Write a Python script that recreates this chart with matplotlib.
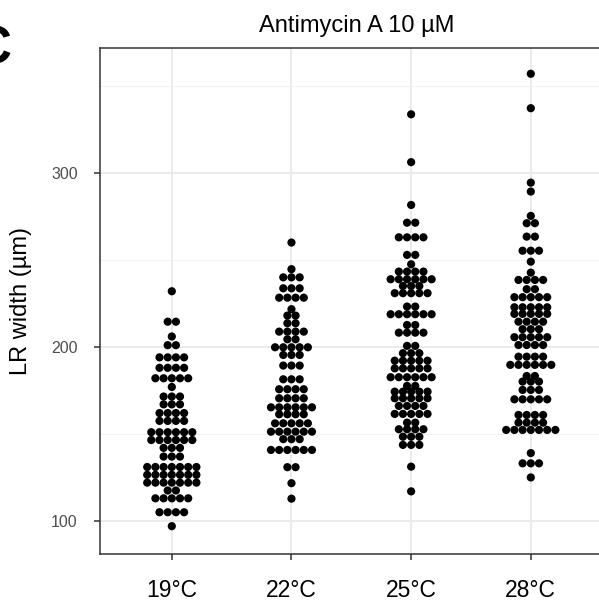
import matplotlib
matplotlib.use("Agg")
import matplotlib.pyplot as plt
import numpy as np

plt.rcParams['font.family'] = ['Liberation Sans', 'DejaVu Sans']

categories = ["19°C", "22°C", "25°C", "28°C"]

# binned values (µm) and number of observations in each bin
bins_19 = [232, 214.5, 206, 201, 194, 188, 182, 177, 171.5, 167, 162, 157.5, 151, 146.5,
           142, 137, 131, 126.5, 122, 117.5, 113, 105, 97]
counts_19 = [1, 2, 1, 2, 4, 4, 5, 1, 3, 3, 4, 4, 6, 6, 3, 3, 7, 7, 7, 2, 5, 4, 1]

bins_22 = [260, 244.7, 240, 233.7, 228.3, 221.7, 218, 213.6, 208.8, 204.4, 199.8, 195.4,
           189.3, 181.4, 175.7, 170.5, 165.3, 161.3, 156.1, 151.3, 147, 140.8, 130.9,
           121.7, 112.8]
counts_22 = [1, 1, 3, 3, 4, 1, 2, 2, 4, 2, 5, 3, 3, 3, 4, 4, 6, 4, 5, 6, 3, 6, 2, 1, 1]

bins_25 = [333.7, 306.2, 281.6, 271.4, 263, 252.9, 247.5, 243.3, 238.9, 235, 230.9, 223.2,
           218.8, 212.6, 208.2, 200.6, 196.4, 192.1, 187.7, 182.6, 177.6, 174.3, 170.5,
           166.1, 161.5, 156.5, 152.7, 148.4, 143.7, 131.2, 117]
counts_25 = [1, 1, 1, 2, 4, 2, 1, 4, 6, 3, 5, 2, 6, 2, 4, 2, 3, 5, 5, 6, 2, 5, 5, 4, 5, 2,
             4, 3, 3, 1, 1]

bins_28 = [357, 337.2, 294.4, 289.3, 275.3, 271.1, 263.4, 255.3, 249, 242.7, 238.5, 233.2,
           228.6, 222.8, 219, 214.5, 210.2, 205.6, 201.1, 194.4, 189.7, 183.3, 180.1,
           175.3, 169.9, 160.9, 156.5, 152.3, 139, 133.1, 125]
counts_28 = [1, 1, 1, 1, 1, 2, 2, 3, 1, 1, 4, 2, 5, 5, 5, 4, 3, 5, 4, 4, 6, 2, 3, 3, 5, 4,
             4, 7, 1, 3, 1]

groups = [(bins_19, counts_19), (bins_22, counts_22), (bins_25, counts_25), (bins_28, counts_28)]

W, H = 599, 612
fig = plt.figure(figsize=(W / 100, H / 100), dpi=100)
left_px, right_px, top_px, bottom_px = 100, 602.6, 48, 554
ax = fig.add_axes([left_px / W, 1 - bottom_px / H, (right_px - left_px) / W, (bottom_px - top_px) / H])

xlim = (0.4, 4.6)
ylim = (81.0, 371.8)
ax.set_xlim(*xlim)
ax.set_ylim(*ylim)

dot_px = 8.2
px_per_x = (right_px - left_px) / (xlim[1] - xlim[0])
dx = dot_px / px_per_x
for gi, (bins, counts) in enumerate(groups):
    xs, ys = [], []
    for b, n in zip(bins, counts):
        offs = (np.arange(n) - (n - 1) / 2) * dx
        xs.extend(gi + 1 + offs)
        ys.extend([b] * n)
    ax.scatter(xs, ys, s=(dot_px * 0.72) ** 2, c='black', edgecolors='none', zorder=3)

# grid like theme_bw
for v in [150, 250, 350]:
    ax.axhline(v, color='#F2F2F2', lw=0.8, zorder=0)
for v in [100, 200, 300]:
    ax.axhline(v, color='#EBEBEB', lw=1.4, zorder=0)
for i in range(1, 5):
    ax.axvline(i, color='#EBEBEB', lw=1.4, zorder=0)

ax.set_xticks(range(1, 5))
ax.set_xticklabels(categories)
ax.set_yticks([100, 200, 300])
ax.tick_params(axis='x', length=4, width=1.1, color='#333333', labelsize=16.5, labelcolor='black', pad=14)
ax.tick_params(axis='y', length=4, width=1.1, color='#333333', labelsize=11.5, labelcolor='#4D4D4D', pad=12)
for s in ax.spines.values():
    s.set_color('#333333')
    s.set_linewidth(1.1)

ax.set_ylabel("LR width (µm)", fontsize=17, labelpad=14)
fig.text(357 / W, 1 - 26 / H, "Antimycin A 10 µM", ha='center', va='center', fontsize=17)
fig.text(-26 / W, 1 - 63 / H, "C", ha='left', va='baseline', fontsize=38, fontweight='bold')

fig.savefig("out.png", dpi=100)
